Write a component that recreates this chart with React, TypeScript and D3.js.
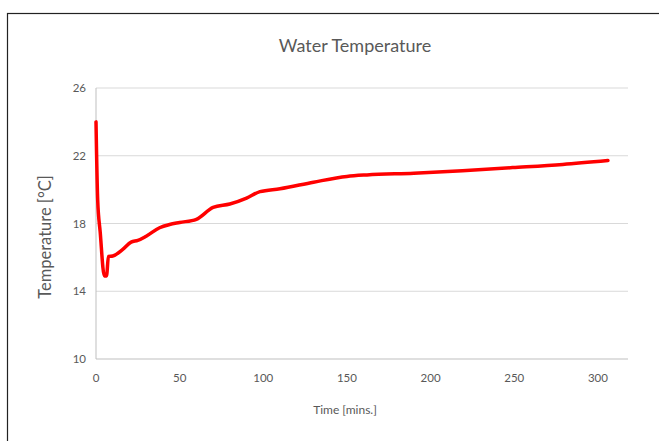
import React from "react";
import * as d3 from "d3";

const timeMins = [0, 1, 2.5, 5, 6.3, 7.4, 10, 16, 21, 25, 30, 38, 44, 50, 60, 70, 80, 90, 98, 110, 130, 150, 162, 190, 219, 249, 279, 306];
const tempC = [24.0, 19.4, 17.5, 14.9, 14.9, 16.05, 16.08, 16.47, 16.9, 17.0, 17.25, 17.75, 17.94, 18.06, 18.25, 18.95, 19.15, 19.5, 19.88, 20.05, 20.44, 20.78, 20.87, 20.97, 21.12, 21.3, 21.49, 21.72];
const xTicks = [0, 50, 100, 150, 200, 250, 300];
const yTicks = [10, 14, 18, 22, 26];

const W = 659;
const H = 441;
const font = "Lato, 'Open Sans', sans-serif";

export default function App() {
  const x = d3.scaleLinear().domain([0, 318]).range([96, 628]);
  const y = d3.scaleLinear().domain([10, 26]).range([359, 88]);
  const data = timeMins.map((t, i) => [t, tempC[i]] as [number, number]);
  const line = d3
    .line<[number, number]>()
    .x((d) => x(d[0]))
    .y((d) => y(d[1]))
    .curve(d3.curveMonotoneX);

  return (
    <svg
      width={W}
      height={H}
      style={{ position: "absolute", left: 0, top: 0, background: "#fff" }}
    >
      <rect x={7.5} y={13.5} width={700} height={500} fill="#fff" stroke="#222" strokeWidth={1.2} />
      <text x={355} y={52} textAnchor="middle" fontFamily={font} fontSize={18} fill="#595959">
        Water Temperature
      </text>
      {yTicks.map((t) => (
        <g key={t}>
          {t !== 10 && (
            <line x1={x(0)} x2={628} y1={y(t)} y2={y(t)} stroke="#d9d9d9" strokeWidth={1} />
          )}
          <text x={86} y={y(t) + 4} textAnchor="end" fontFamily={font} fontSize={11.5} fill="#595959">
            {t}
          </text>
        </g>
      ))}
      <line x1={x(0)} x2={x(0)} y1={y(26)} y2={y(10)} stroke="#bfbfbf" strokeWidth={1} />
      <line x1={x(0)} x2={628} y1={y(10)} y2={y(10)} stroke="#bfbfbf" strokeWidth={1} />
      {xTicks.map((t) => (
        <text key={t} x={x(t)} y={382} textAnchor="middle" fontFamily={font} fontSize={11.5} fill="#595959">
          {t}
        </text>
      ))}
      <text x={345} y={414} textAnchor="middle" fontFamily={font} fontSize={12} fill="#595959">
        Time [mins.]
      </text>
      <text
        transform={`translate(51,237) rotate(-90)`}
        textAnchor="middle"
        fontFamily={font}
        fontSize={16.5}
        fill="#595959"
      >
        Temperature [°C]
      </text>
      <path d={line(data) || ""} fill="none" stroke="#ff0000" strokeWidth={3.5} strokeLinejoin="round" strokeLinecap="round" />
    </svg>
  );
}
